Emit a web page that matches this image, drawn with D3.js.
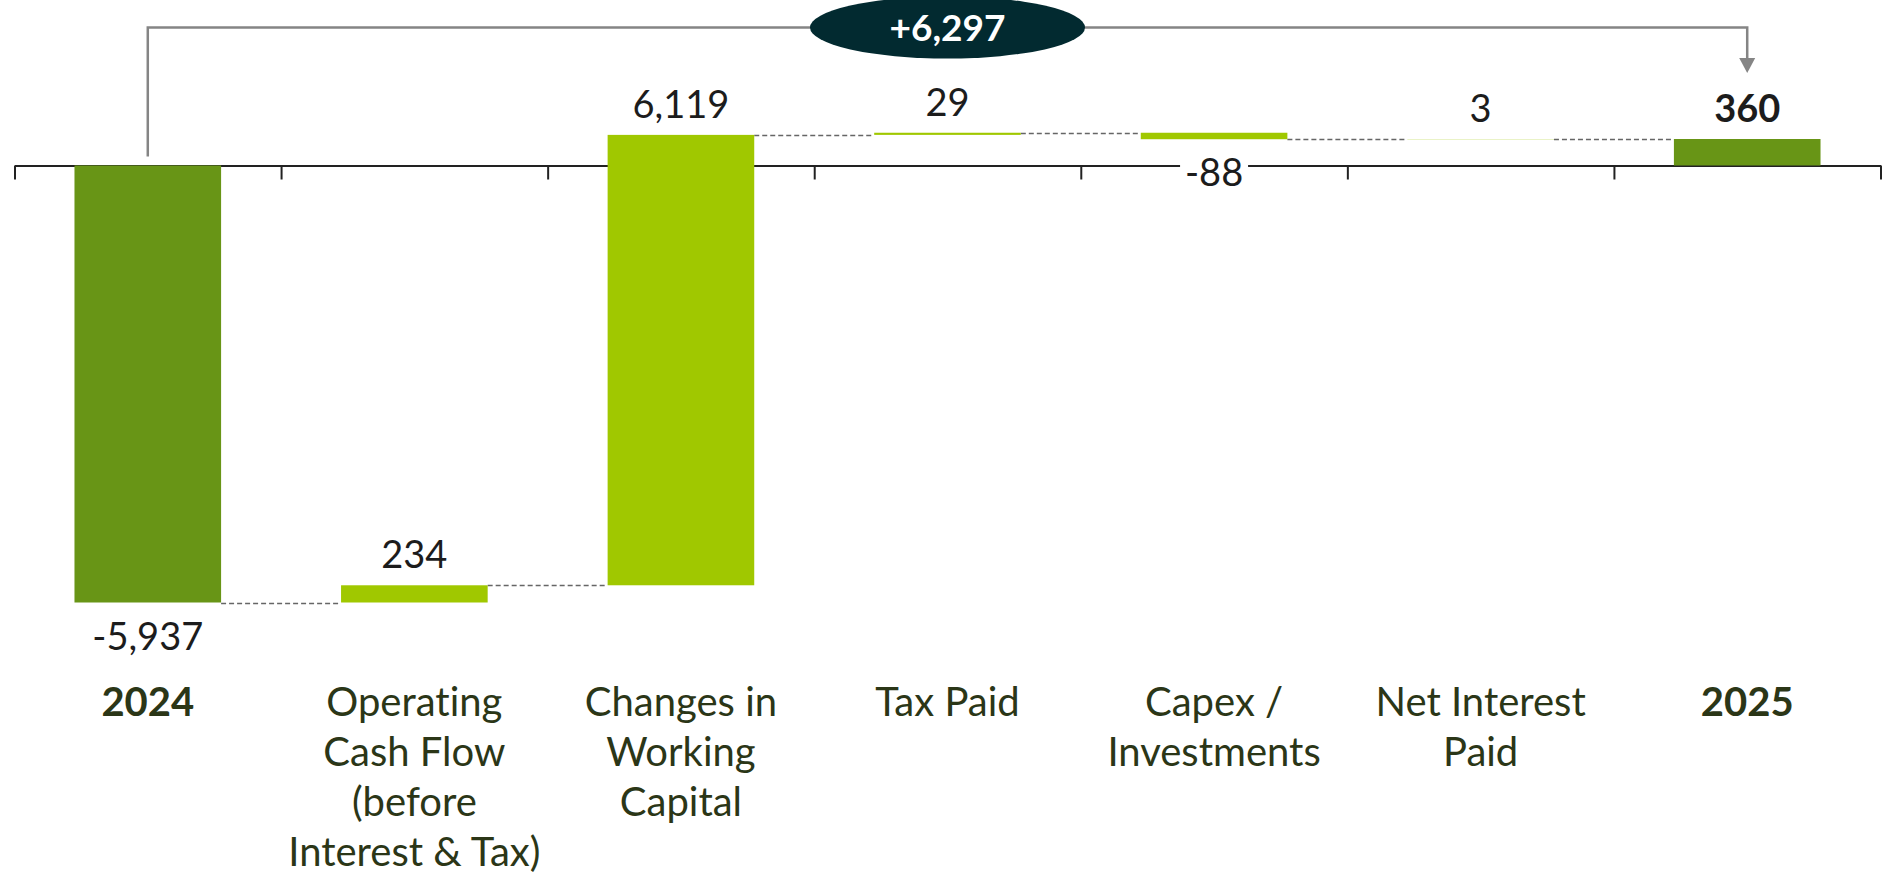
<!DOCTYPE html>
<html>
<head>
<meta charset="utf-8">
<script src="https://cdn.jsdelivr.net/npm/d3@7"></script>
<style>
  html, body { margin: 0; padding: 0; background: #ffffff; }
  svg { display: block; }
  text { font-family: Lato, "Noto Sans", sans-serif; font-variant-ligatures: none; font-feature-settings: "liga" 0, "clig" 0; }
</style>
</head>
<body>
<svg id="chart" width="1895" height="874"></svg>
<script>
// ---- data ----
const categories = ["2024", "Operating Cash Flow (before Interest & Tax)", "Changes in Working Capital", "Tax Paid", "Capex / Investments", "Net Interest Paid", "2025"];
const categoryLines = [["2024"], ["Operating", "Cash Flow", "(before", "Interest & Tax)"], ["Changes in", "Working", "Capital"], ["Tax Paid"], ["Capex /", "Investments"], ["Net Interest", "Paid"], ["2025"]];
const values = [-5937, 234, 6119, 29, -88, 3, 360];
const kinds = ["total", "delta", "delta", "delta", "delta", "delta", "total"];
const boldCategory = [true, false, false, false, false, false, true];
const boldValue = [false, false, false, false, false, false, true];

// ---- styles ----
const COLOR_TOTAL = "#689516";
const COLOR_DELTA = "#a0c800";
const COLOR_CAT = "#2b3617";
const COLOR_VAL = "#1c1c1c";
const COLOR_BRACKET = "#858585";
const COLOR_BUBBLE = "#022a30";

const svg = d3.select("#chart");
const locale = d3.formatLocale({ decimal: ".", thousands: ",", grouping: [3], currency: ["", ""], minus: "-" });

// compute waterfall segments
let cum = 0;
const segs = values.map((v, i) => {
  let s, e;
  if (kinds[i] === "total") { s = 0; e = v; cum = v; }
  else { s = cum; e = cum + v; cum = e; }
  return { cat: categories[i], v, s, e, kind: kinds[i], i };
});

const x = d3.scaleBand().domain(categories).range([14.5, 1880.5]).paddingInner(0.45).paddingOuter(0.225);
const y = d3.scaleLinear().domain([-5937, 0]).range([602.5, 165.5]);

// connectors
const conn = svg.append("g");
segs.slice(0, -1).forEach((d, i) => {
  const n = segs[i + 1];
  conn.append("line")
    .attr("x1", x(d.cat) + x.bandwidth()).attr("x2", x(n.cat))
    .attr("y1", Math.round(y(d.e)) + 0.5).attr("y2", Math.round(y(d.e)) + 0.5)
    .attr("stroke", "#666666").attr("stroke-width", 1.3)
    .attr("stroke-dasharray", "5,3");
});

// axis
const xi = d3.scaleLinear().domain([0, categories.length]).range(x.range());
const axis = svg.append("g").attr("transform", `translate(0,${y(0)})`)
  .call(d3.axisBottom(xi).tickValues(d3.range(categories.length + 1)).tickSizeInner(14).tickSizeOuter(0).tickFormat(""));
axis.select(".domain").attr("stroke", "#222").attr("stroke-width", 2);
axis.selectAll(".tick line").attr("stroke", "#222").attr("stroke-width", 2);

// bars
svg.append("g").selectAll("rect").data(segs).join("rect")
  .attr("x", d => x(d.cat))
  .attr("width", x.bandwidth())
  .attr("y", d => y(Math.max(d.s, d.e)))
  .attr("height", d => Math.abs(y(d.s) - y(d.e)))
  .attr("fill", d => d.kind === "total" ? COLOR_TOTAL : COLOR_DELTA);

// value labels
const fmt = locale.format(",");
const vl = svg.append("g");
segs.forEach(d => {
  const cx = x(d.cat) + x.bandwidth() / 2;
  const neg = d.v < 0;
  const yy = neg ? y(Math.min(d.s, d.e)) + 47 : y(Math.max(d.s, d.e)) - 17;
  if (neg && y(Math.min(d.s, d.e)) < y(0) + 5) {
    vl.append("rect").attr("x", cx - 34).attr("width", 68)
      .attr("y", yy - 30).attr("height", 34).attr("fill", "#fff");
  }
  vl.append("text")
    .attr("x", cx).attr("y", yy)
    .attr("text-anchor", "middle")
    .attr("font-size", 38)
    .attr("font-weight", boldValue[d.i] ? 700 : 400)
    .attr("fill", COLOR_VAL)
    .text(fmt(d.v));
});

// category labels
const cl = svg.append("g");
segs.forEach(d => {
  const cx = x(d.cat) + x.bandwidth() / 2;
  const t = cl.append("text")
    .attr("text-anchor", "middle")
    .attr("font-size", 40)
    .attr("font-weight", boldCategory[d.i] ? 700 : 400)
    .attr("fill", COLOR_CAT);
  categoryLines[d.i].forEach((ln, k) => {
    t.append("tspan").attr("x", cx).attr("y", 716 + k * 50).text(ln);
  });
});

// bracket with arrow
const first = segs[0], last = segs[segs.length - 1];
const x0 = x(first.cat) + x.bandwidth() / 2;
const x1 = x(last.cat) + x.bandwidth() / 2;
const topY = 27.5;
svg.append("path")
  .attr("d", `M${x0},${y(0) - 9}V${topY}H${x1}V60`)
  .attr("fill", "none").attr("stroke", COLOR_BRACKET).attr("stroke-width", 2.5);
svg.append("path")
  .attr("d", `M${x1 - 8},58L${x1 + 8},58L${x1},73Z`)
  .attr("fill", COLOR_BRACKET);

// bubble
const midX = (xi.range()[0] + xi.range()[1]) / 2;
svg.append("ellipse").attr("cx", midX).attr("cy", topY).attr("rx", 137.5).attr("ry", 31)
  .attr("fill", COLOR_BUBBLE);
const change = last.v - first.v;
svg.append("text").attr("x", midX).attr("y", 40.5)
  .attr("text-anchor", "middle").attr("font-size", 37).attr("font-weight", 700)
  .attr("fill", "#ffffff")
  .text(locale.format("+,")(change));
</script>
</body>
</html>
